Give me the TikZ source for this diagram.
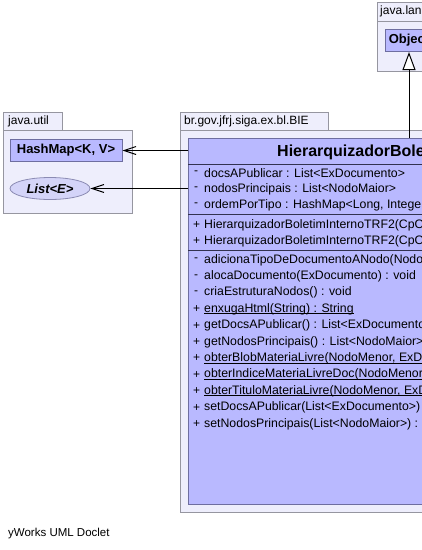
\documentclass[tikz,border=0pt]{standalone}
\usepackage{fontspec}
\setmainfont{Liberation Sans}
\usetikzlibrary{arrows.meta,shapes.geometric}
\definecolor{pkgfill}{RGB}{238,238,252}
\definecolor{pkgdraw}{RGB}{150,150,160}
\definecolor{clsfill}{RGB}{185,185,255}
\definecolor{clsdraw}{RGB}{110,110,160}
\definecolor{ellfill}{RGB}{212,212,248}
\definecolor{sepline}{RGB}{50,50,80}
\newcommand\myul[1]{\setbox0\hbox{#1}\rlap{\rule[-1.8pt]{\wd0}{0.8pt}}\box0}
\tikzset{
  pkg/.style={draw=pkgdraw, fill=pkgfill, line width=0.9pt},
  pkgname/.style={anchor=west, inner sep=0pt, font=\fontsize{12}{14}\selectfont},
  clsbox/.style={draw=clsdraw, fill=clsfill, line width=1pt, inner sep=0pt, anchor=north west},
  smallcls/.style={draw=clsdraw, fill=clsfill, line width=1pt, inner sep=0pt, font=\fontsize{13}{15}\selectfont\bfseries},
  iface/.style={ellipse, draw=clsdraw!80, fill=ellfill, line width=0.8pt, inner sep=0pt, font=\fontsize{13}{15}\selectfont\bfseries\itshape},
  vis/.style={anchor=west, inner sep=0pt, font=\fontsize{12}{14}\selectfont},
  member/.style={anchor=west, inner sep=0pt, font=\fontsize{12.3}{14}\selectfont},
  sep/.style={draw=sepline, line width=0.9pt},
  dep/.style={draw=black, line width=1pt, -{Straight Barb[length=12pt,width=8pt,line width=1pt]}},
  gen/.style={draw=black, line width=1pt, -{Triangle[open,length=18pt,width=13pt,line width=1pt,fill=white]}}
}
\begin{document}
\begin{tikzpicture}[x=1pt,y=-1pt]
\useasboundingbox (0,0) rectangle (422,550);
\fill[white] (0,0) rectangle (422,550);
\clip (0,0) rectangle (422,550);

% java.lang package
\path[pkg] (377,2) rectangle (445,21);
\path[pkg] (377,21) rectangle (445,71);
\node[pkgname] (langname) at (380,11.5) {java.lang};
\node[smallcls, minimum width=48pt, minimum height=22pt] (object) at (409,40.5) {Object};

% java.util package
\path[pkg] (3,112) rectangle (62,130);
\path[pkg] (3,130) rectangle (132,213);
\node[pkgname] (utilname) at (8,121) {java.util};
\node[smallcls, minimum width=112pt, minimum height=22pt] (hashmap) at (66,150.5) {HashMap<K, V>};
\node[iface, minimum width=80pt, minimum height=22pt] (list) at (50,188.5) {List<E>};

% br.gov.jfrj.siga.ex.bl.BIE package
\path[pkg] (180,112) rectangle (328,130);
\path[pkg] (180,130) rectangle (460,512);
\node[pkgname] (biename) at (184,121) {br.gov.jfrj.siga.ex.bl.BIE};

% class box
\node[clsbox, minimum width=280pt, minimum height=366pt] (cls) at (188,138) {};
\node[anchor=west, inner sep=0pt, font=\fontsize{16}{18}\selectfont\bfseries] (title) at (277,152) {HierarquizadorBoletimInternoTRF2};
\draw[sep] (188,164.5) -- (468,164.5);
\draw[sep] (188,214) -- (468,214);
\draw[sep] (188,250) -- (468,250);

% attributes
\node[vis] (v1) at (194,173) {-};
\node[member] (a1) at (204,173) {docsAPublicar : List<ExDocumento>};
\node[vis] (v2) at (194,189) {-};
\node[member] (a2) at (204,189) {nodosPrincipais : List<NodoMaior>};
\node[vis] (v3) at (194,205) {-};
\node[member] (a3) at (204,205) {ordemPorTipo : HashMap<Long, Integer>};

% constructors
\node[vis] (v4) at (193,225.5) {+};
\node[member] (c1) at (204,225.5) {HierarquizadorBoletimInternoTRF2(CpOrgaoUsuario)};
\node[vis] (v5) at (193,241.5) {+};
\node[member] (c2) at (204,241.5) {HierarquizadorBoletimInternoTRF2(CpOrgaoUsuario, Date)};

% methods
\node[vis] (v6) at (194,260) {-};
\node[member] (m1) at (204,260) {adicionaTipoDeDocumentoANodo(NodoMaior) : void};
\node[vis] (v7) at (194,276.4) {-};
\node[member] (m2) at (204,276.4) {alocaDocumento(ExDocumento) : void};
\node[vis] (v8) at (194,292.8) {-};
\node[member] (m3) at (204,292.8) {criaEstruturaNodos() : void};
\node[vis] (v9) at (193,309.2) {+};
\node[member] (m4) at (204,309.2) {\myul{enxugaHtml(String) : String}};
\node[vis] (v10) at (193,325.6) {+};
\node[member] (m5) at (204,325.6) {getDocsAPublicar() : List<ExDocumento>};
\node[vis] (v11) at (193,342) {+};
\node[member] (m6) at (204,342) {getNodosPrincipais() : List<NodoMaior>};
\node[vis] (v12) at (193,358.4) {+};
\node[member] (m7) at (204,358.4) {\myul{obterBlobMateriaLivre(NodoMenor, ExDocumento)}};
\node[vis] (v13) at (193,374.8) {+};
\node[member] (m8) at (204,374.8) {\myul{obterIndiceMateriaLivreDoc(NodoMenor)}};
\node[vis] (v14) at (193,391.2) {+};
\node[member] (m9) at (204,391.2) {\myul{obterTituloMateriaLivre(NodoMenor, ExDocumento)}};
\node[vis] (v15) at (193,407.6) {+};
\node[member] (m10) at (204,407.6) {setDocsAPublicar(List<ExDocumento>) : void};
\node[vis] (v16) at (193,424) {+};
\node[member] (m11) at (204,424) {setNodosPrincipais(List<NodoMaior>) : void};

% connectors
\draw[dep] (hashmap.east -| cls.west) -- (hashmap.east);
\draw[dep] (list.east -| cls.west) -- (list.east);
\draw[gen] (object.south |- cls.north) -- (object.south);

% footer
\node[anchor=west, inner sep=0pt, font=\fontsize{11.5}{13}\selectfont] (footer) at (8,534) {yWorks UML Doclet};
\end{tikzpicture}
\end{document}
